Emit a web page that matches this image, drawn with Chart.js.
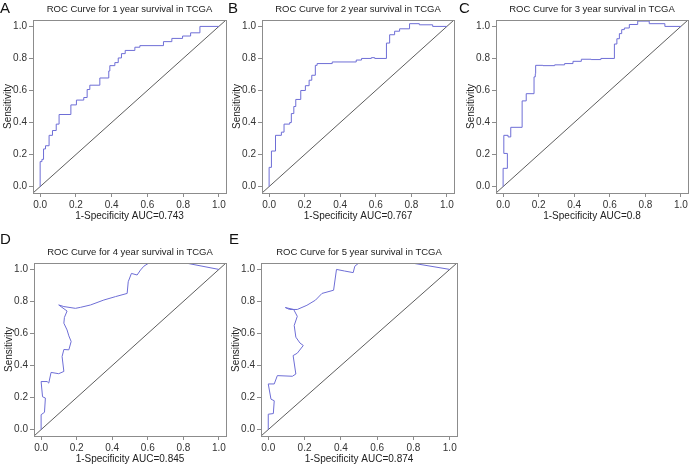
<!DOCTYPE html>
<html>
<head>
<meta charset="utf-8">
<script src="https://cdn.jsdelivr.net/npm/chart.js"></script>
<style>
body { margin:0; width:690px; height:464px; overflow:hidden; background:#fff; position:relative; font-family:"Liberation Sans", Arial, sans-serif; }
canvas { position:absolute; }
.lbl { position:absolute; font-size:15px; line-height:15px; color:#111; }
.ttl { position:absolute; font-size:9.5px; line-height:10px; color:#222; white-space:nowrap; transform:translateX(-50%); }
</style>
</head>
<body>
<script>
// values
let tickValues = [0, 0.2, 0.4, 0.6, 0.8, 1.0];
let panelLetters = ["A", "B", "C", "D", "E"];
let years = [1, 2, 3, 4, 5];
let aucValues = ["0.743", "0.767", "0.8", "0.845", "0.874"];

// 1 year (step curve)
let fprA = [0, 0.01, 0.019, 0.03, 0.05, 0.069, 0.09, 0.106, 0.172, 0.203, 0.244, 0.263, 0.278, 0.334, 0.384, 0.39, 0.418, 0.437, 0.455, 0.476, 0.53, 0.558, 0.69, 0.737, 0.797, 0.842, 0.894, 1.0];
let tprA = [0, 0.156, 0.17, 0.235, 0.255, 0.32, 0.35, 0.39, 0.45, 0.51, 0.54, 0.556, 0.606, 0.633, 0.678, 0.722, 0.755, 0.774, 0.803, 0.83, 0.85, 0.87, 0.88, 0.905, 0.925, 0.94, 0.96, 1.0];

// 2 year (step curve)
let fprB = [0, 0.013, 0.036, 0.069, 0.084, 0.116, 0.125, 0.139, 0.15, 0.178, 0.204, 0.225, 0.24, 0.26, 0.27, 0.355, 0.49, 0.52, 0.575, 0.594, 0.66, 0.678, 0.706, 0.734, 0.79, 0.845, 0.92, 1.0];
let tprB = [0, 0.12, 0.222, 0.32, 0.34, 0.39, 0.40, 0.456, 0.50, 0.544, 0.60, 0.63, 0.664, 0.695, 0.757, 0.768, 0.778, 0.79, 0.80, 0.805, 0.80, 0.896, 0.948, 0.97, 0.985, 1.017, 1.01, 1.0];

// 3 year (step curve)
let fprC = [0, 0.024, 0.004, 0.028, 0.043, 0.107, 0.13, 0.174, 0.181, 0.183, 0.224, 0.29, 0.346, 0.393, 0.44, 0.495, 0.55, 0.626, 0.64, 0.654, 0.667, 0.682, 0.71, 0.757, 0.822, 0.91, 1.0];
let tprC = [0, 0.114, 0.207, 0.32, 0.31, 0.37, 0.535, 0.58, 0.685, 0.705, 0.757, 0.755, 0.76, 0.768, 0.782, 0.795, 0.793, 0.80, 0.89, 0.923, 0.955, 0.98, 0.99, 1.012, 1.033, 1.017, 1.0];

// 4 year (smoothed curve)
let fprD = [0, 0, 0.019, 0.024, 0.008, 0, 0.034, 0.043, 0.056, 0.099, 0.128, 0.118, 0.128, 0.156, 0.169, 0.156, 0.146, 0.128, 0.131, 0.146, 0.099, 0.128, 0.193, 0.221, 0.278, 0.353, 0.418, 0.484, 0.49, 0.508, 0.54, 0.559, 0.578, 0.615, 0.7, 0.794, 1.0];
let tprD = [0, 0.093, 0.108, 0.197, 0.205, 0.30, 0.30, 0.29, 0.357, 0.349, 0.363, 0.456, 0.50, 0.498, 0.55, 0.585, 0.622, 0.664, 0.70, 0.74, 0.778, 0.768, 0.757, 0.763, 0.778, 0.809, 0.83, 0.85, 0.923, 0.975, 0.965, 0.996, 1.02, 1.046, 1.07, 1.044, 1.0];

// 5 year (smoothed curve)
let fprE = [0, 0, 0.028, 0.033, 0.015, 0, 0.033, 0.05, 0.133, 0.152, 0.137, 0.16, 0.193, 0.175, 0.152, 0.143, 0.16, 0.14, 0.094, 0.117, 0.16, 0.213, 0.26, 0.296, 0.36, 0.376, 0.42, 0.468, 0.477, 0.51, 0.65, 0.79, 1.0];
let tprE = [0, 0.096, 0.10, 0.18, 0.19, 0.285, 0.285, 0.337, 0.333, 0.347, 0.462, 0.477, 0.525, 0.54, 0.577, 0.65, 0.707, 0.75, 0.762, 0.75, 0.75, 0.776, 0.808, 0.85, 0.87, 1.0, 0.99, 0.98, 1.02, 1.05, 1.08, 1.04, 1.0];

let axisMin = -0.04;
let axisMax = 1.04;

// plot boxes on the page: left, top, right, bottom
let panels = [
  { box: [33, 20, 226, 193], fpr: fprA, tpr: tprA, stepped: "after", letter: [0, 0] },
  { box: [262, 20, 454, 193], fpr: fprB, tpr: tprB, stepped: "after", letter: [228, 0] },
  { box: [496, 20, 688, 193], fpr: fprC, tpr: tprC, stepped: "after", letter: [459, 0] },
  { box: [34, 263, 226, 436], fpr: fprD, tpr: tprD, stepped: false, letter: [0, 231] },
  { box: [261, 263, 457, 436], fpr: fprE, tpr: tprE, stepped: false, letter: [229, 231] },
];

const boxPlugin = {
  id: "box",
  afterDraw(chart) {
    const a = chart.chartArea;
    const c = chart.ctx;
    c.save();
    c.strokeStyle = "#8c8c8c";
    c.lineWidth = 1;
    c.strokeRect(Math.round(a.left) + 0.5, Math.round(a.top) + 0.5, Math.round(a.right - a.left), Math.round(a.bottom - a.top));
    c.restore();
  },
};

function axis(titleText, horizontal) {
  return {
    type: "linear",
    min: axisMin,
    max: axisMax,
    afterBuildTicks: (scale) => {
      scale.ticks = tickValues.map((v) => ({ value: v }));
    },
    afterFit: (scale) => {
      if (horizontal) scale.height = 40;
      else scale.width = 40;
    },
    grid: { drawOnChartArea: false, drawTicks: true, tickLength: 4, color: "#8c8c8c" },
    border: { display: false },
    ticks: {
      autoSkip: false,
      maxRotation: 0,
      padding: 2,
      color: "#333",
      font: { family: "Liberation Sans", size: 10 },
      callback: (v) => Number(v).toFixed(1),
    },
    title: {
      display: true,
      text: titleText,
      color: "#222",
      font: { family: "Liberation Sans", size: 10 },
      padding: horizontal ? { top: 0, bottom: 11 } : { top: 9, bottom: 0 },
    },
  };
}

panels.forEach((p, i) => {
  const [L, T, R, B] = p.box;
  const cv = document.createElement("canvas");
  const w = R - L + 50;
  const h = B - T + 50;
  cv.width = w;
  cv.height = h;
  cv.style.left = (L - 40) + "px";
  cv.style.top = (T - 10) + "px";
  cv.style.width = w + "px";
  cv.style.height = h + "px";
  document.body.appendChild(cv);

  const letter = document.createElement("div");
  letter.className = "lbl";
  letter.style.left = p.letter[0] + "px";
  letter.style.top = p.letter[1] + "px";
  letter.textContent = panelLetters[i];
  document.body.appendChild(letter);

  const title = document.createElement("div");
  title.className = "ttl";
  title.style.left = ((L + R) / 2) + "px";
  title.style.top = (T - 16) + "px";
  title.textContent = "ROC Curve for " + years[i] + " year survival in TCGA";
  document.body.appendChild(title);

  const curve = p.fpr.map((x, k) => ({ x: x, y: p.tpr[k] }));

  new Chart(cv.getContext("2d"), {
    type: "line",
    data: {
      datasets: [
        {
          data: curve,
          borderColor: "#6e6ed6",
          borderWidth: 1,
          pointRadius: 0,
          stepped: p.stepped,
          tension: 0,
          clip: 0,
        },
        {
          data: [{ x: axisMin, y: axisMin }, { x: axisMax, y: axisMax }],
          borderColor: "#333",
          borderWidth: 0.8,
          pointRadius: 0,
          clip: 0,
        },
      ],
    },
    options: {
      responsive: false,
      animation: false,
      layout: { padding: { top: 10, right: 10, left: 0, bottom: 0 } },
      plugins: { legend: { display: false }, tooltip: { enabled: false } },
      scales: {
        x: axis("1-Specificity AUC=" + aucValues[i], true),
        y: axis("Sensitivity", false),
      },
    },
    plugins: [boxPlugin],
  });
});
</script>
</body>
</html>
